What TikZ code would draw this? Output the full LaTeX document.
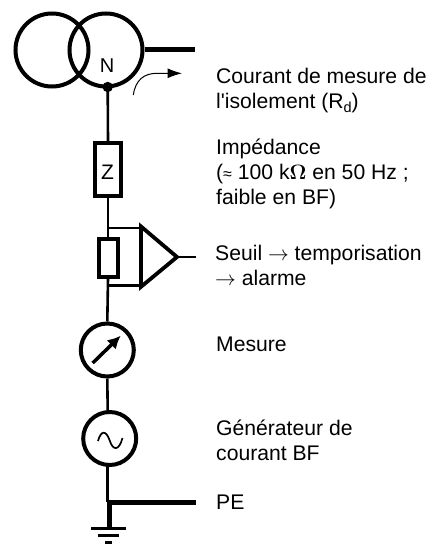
\documentclass[tikz,border=0pt]{standalone}
\usepackage{fontspec}
\setmainfont{Liberation Sans}[Ligatures=TeXOff]
\usetikzlibrary{arrows.meta}
\tikzset{
 wire/.style={line width=2.6pt},
 busbar/.style={line width=5pt},
 coil/.style={circle,draw,line width=4pt,minimum size=73pt,inner sep=0pt},
 dial/.style={circle,draw,line width=4pt,minimum size=53pt,inner sep=0pt},
 imped/.style={rectangle,draw,line width=4pt,inner sep=0pt},
 caption/.style={anchor=north west,align=left,inner sep=0pt,font=\fontsize{21.15}{25}\selectfont},
}
\begin{document}
\begin{tikzpicture}[x=1pt,y=-1pt,line join=miter]
 \useasboundingbox (0,0) rectangle (429,545);
 % transformateur
 \node[coil] (primary) at (52,50) {};
 \node[coil] (secondary) at (106,50) {};
 \coordinate (busEnd) at (195,50);
 \draw[busbar] (secondary.east)--(busEnd);
 \coordinate (neutral) at (107.7,87);
 \fill (neutral) circle (5.2);
 \node[font=\fontsize{20}{24}\selectfont,inner sep=0pt] (nLabel) at (107,66) {N};
 \coordinate (flowStart) at (133.3,95);
 \coordinate (flowBend) at (157,73.3);
 \coordinate (flowEnd) at (182,73.3);
 \draw[line width=1pt,-{Latex[length=14.5pt,width=10pt]}] (flowStart) .. controls (135.5,80) and (144,73.3) .. (flowBend)--(flowEnd);
 % branche verticale
 \node[imped,minimum width=26pt,minimum height=53pt] (zBox) at (108,170) {};
 \node[font=\fontsize{21}{25}\selectfont,inner sep=0pt] (zLabel) at (107.5,172) {Z};
 \node[imped,minimum width=19pt,minimum height=38pt] (shunt) at (108,257.5) {};
 \node[dial] (meter) at (107.3,350) {};
 \node[dial] (gen) at (109.7,438.5) {};
 \coordinate (tee) at (107.7,502);
 \coordinate (earth) at (109,528);
 \draw[wire] (neutral)--(zBox.north);
 \draw[wire] (zBox.south)--(shunt.north);
 \draw[wire] (shunt.south)--(meter.north);
 \draw[wire] (meter.south)--(107.7,411);
 \draw[wire] (107.7,466)--(tee);
 % seuil
 \coordinate (ampTop) at (141,226.5);
 \coordinate (ampBot) at (141,286.8);
 \coordinate (ampTip) at (177,257);
 \coordinate (ampOut) at (196,257);
 \draw[line width=3.8pt] (ampTop)--(ampTip)--(ampBot)--cycle;
 \draw[wire] (107.7,228)--(141,228);
 \draw[wire] (107.7,285.5)--(141,285.5);
 \draw[wire] (ampTip)--(ampOut);
 % mesure
 \coordinate (needleStart) at (92.7,363);
 \coordinate (needleEnd) at (120.7,335.7);
 \draw[line width=3.5pt,-{Latex[length=13pt,width=13pt]}] (needleStart)--(needleEnd);
 % generateur
 \draw[line width=1.7pt] (98,441) .. controls (101,430) and (106,430) .. (109.7,440.5) .. controls (113,451) and (119,451) .. (122.5,438);
 % terre
 \coordinate (peEnd) at (196,502);
 \draw[busbar] (tee)--(peEnd);
 \draw[busbar] (tee -| earth)--(earth);
 \draw[line width=3.6pt] (91,528.5)--(126,528.5);
 \draw[line width=3.6pt] (98,535.5)--(119,535.5);
 \draw[line width=3.6pt] (105,542.5)--(112,542.5);
 % legendes
 \node[caption] (tCourant) at (216,68) {Courant de mesure de\\l'isolement (R\raisebox{-4pt}{\fontsize{14.5}{14.5}\selectfont d})};
 \node[caption] (tImped) at (216,138.5) {Impédance\\({\fontsize{16}{16}\selectfont ≈} 100 k{\boldmath$\Omega$} en 50 Hz ;\\faible en BF)};
 \node[caption] (tSeuil) at (215,244.5) {Seuil $\rightarrow$ temporisation\\$\rightarrow$ alarme};
 \node[caption] (tMesure) at (216,337) {Mesure};
 \node[caption] (tGen) at (216,420) {Générateur de\\courant BF};
 \node[caption] (tPE) at (216,495) {PE};
\end{tikzpicture}
\end{document}
